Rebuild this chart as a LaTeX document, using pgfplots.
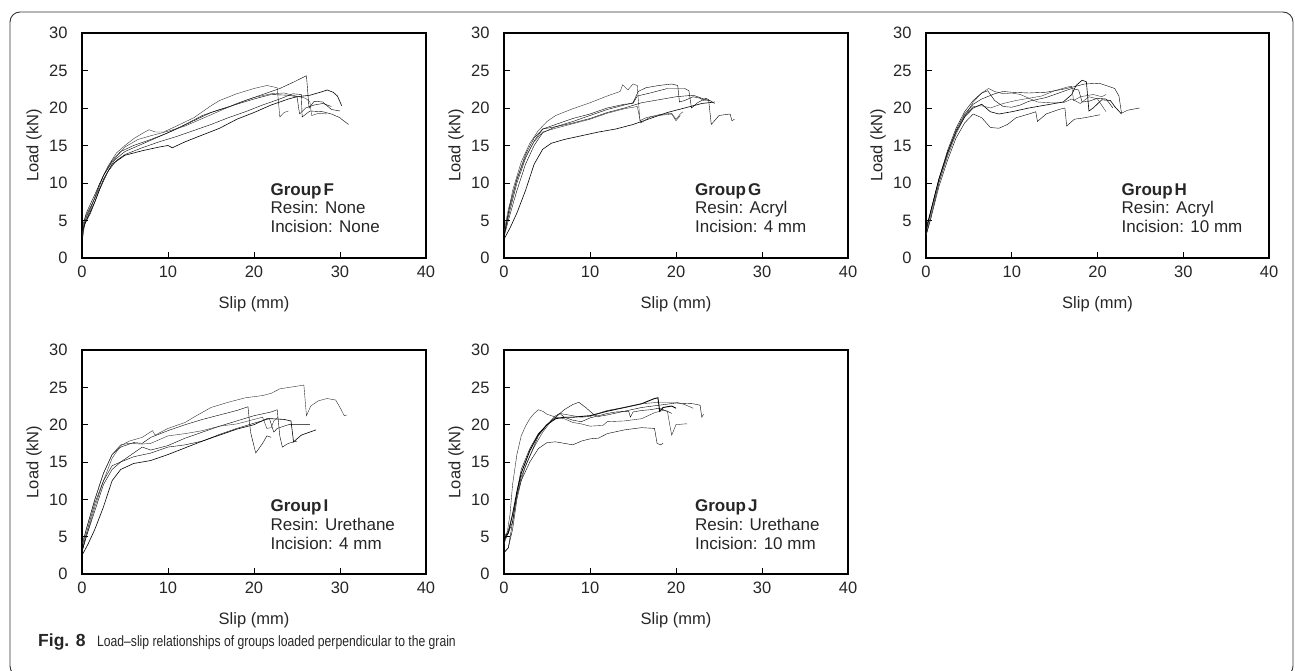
\documentclass[border=0pt]{standalone}
\usepackage{fontspec}
\setmainfont{Liberation Sans}
\usepackage{pgfplots}
\pgfplotsset{compat=1.18}
\pgfplotsset{
 panel/.style={
  anchor=south west, scale only axis, width=344pt, height=225pt,
  xmin=0,xmax=40,ymin=0,ymax=30,
  xtick={0,10,20,30,40}, ytick={0,5,10,15,20,25,30},
  tick align=inside, tick pos=left,
  major tick length=6pt,
  axis line style={line width=1.2pt, black},
  tick style={line width=0.9pt, black},
  tick label style={font=\fontsize{16.5}{19}\selectfont, text=black!85},
  /pgf/number format/assume math mode=true,
  yticklabel style={xshift=-11pt},
  xticklabel style={yshift=-4pt},
  xlabel={Slip (mm)}, ylabel={Load (kN)},
  label style={font=\fontsize{16.5}{19}\selectfont, text=black!85},
  xlabel style={at={(axis description cs:0.5,-0.172)}, anchor=north, inner sep=0pt},
  ylabel style={at={(axis description cs:-0.1395,0.5)}, anchor=center, inner sep=0pt},
  cycle list={{black!80,solid,mark=none,line width=0.6pt,line join=round}},
 },
}
\tikzset{grp/.style={anchor=north west, inner sep=0pt, align=left, text=black!85,
   font=\fontsize{17}{18.8}\selectfont}}
\begin{document}
\begin{tikzpicture}
\useasboundingbox (0,0) rectangle (1295pt,670pt);
\clip (0,0) rectangle (1295pt,670pt);
\draw[line width=0.9pt, black!80, rounded corners=10pt] (10pt,-6pt) rectangle (1293pt,658pt);

% ---------------- Group F
\begin{axis}[panel, at={(82pt,412pt)}]
\addplot coordinates {(0,2.5)(0.2,4.5)(1,6.5)(2,9.8)(3,12.2)(4,14)(5,15)(6,15.9)(7,16.6)(7.8,17.1)(8.5,16.8)(9.5,16.8)(11,17.6)(13,18.7)(15,20.3)(16,21)(18,21.9)(20,22.6)(21.5,23)(22.7,22.7)(23,18.8)(23.5,19.4)(24,19.6)};
\addplot coordinates {(0,3)(0.5,5.5)(1.5,8)(2.5,11)(3.5,12.8)(5,14.2)(7,15.2)(9,16.2)(11,17.2)(13,18.3)(15,19.4)(17,20.1)(19,21)(21,21.8)(23,22.6)(24.5,23.4)(26.1,24.3)(26.4,20)(27,20.9)(28,20.8)(29,19.8)(30,19.6)};
\addplot coordinates {(0,2)(0.3,4.5)(1,6)(2,9)(3,11.5)(4,13)(5,13.8)(7,14.7)(9,15.5)(11,16.2)(13,17)(15,17.8)(17,18.7)(19,19.5)(21,20.4)(23,21.2)(24.5,21.9)(25.5,21.8)(25.6,18.8)(26.5,19.6)(28,19.5)(29,19.2)(30,18.7)(30.3,18.4)(31,17.8)};
\addplot coordinates {(0,3.5)(0.5,5)(1.5,7.5)(2.5,10.5)(3.5,12.5)(5,13.7)(7,14.3)(9,14.8)(10,15)(10.5,14.7)(12,15.5)(14,16.4)(16,17.3)(18,18.5)(20,19.4)(22,20.4)(24,21.2)(25,21.5)(26.5,21.7)(28,22.2)(28.5,22.4)(29.2,22.1)(29.7,21.6)(30.2,20.3)};
\addplot coordinates {(0,4)(0.5,6)(1.5,8.5)(2.5,11)(3.5,13)(4.5,14.2)(6,15)(8,15.8)(10,16.7)(12,17.8)(14,19)(16,19.8)(18,20.5)(20,21.2)(22,21.8)(24,21.7)(25,21.5)(25.3,19.2)(26,20)(27,20.4)(28,20.6)(29,20.2)};
\addplot coordinates {(0,3)(0.4,5.5)(1.5,8)(3,11.5)(4,13.5)(5,14.8)(6.5,15.8)(8,16.3)(10,16.9)(12,17.6)(14,18.6)(16,19.6)(18,20.6)(20,21.4)(22,21.9)(23.5,22)(24.5,21.7)(26,21.3)(26.5,20.8)(26.7,19)(27.5,19.3)(28.5,19.2)};
\node[grp] at (axis cs:21.9,10) {\textbf{Group\hspace{0.12em}F}\\Resin: None\\Incision: None};
\end{axis}

% ---------------- Group G
\begin{axis}[panel, at={(504pt,412pt)}]
\addplot coordinates {(0,3)(0.5,6)(1,9)(2,12.8)(3,15.3)(4,17)(5,18.2)(6,19)(8,19.9)(10,20.7)(12,21.6)(13.5,22.2)(13.8,23.1)(14.4,22.4)(15,23.2)(15.5,23)(15.8,18.3)(16.5,18.7)(18,19.1)(19.5,19.3)(20,18.5)(20.5,19.2)(20.8,19.5)};
\addplot coordinates {(0,2.8)(0.5,5)(1.5,9)(2.5,12.5)(3.5,15)(4.5,16.7)(6,17.5)(8,18.2)(10,19)(12,19.8)(14,20.4)(15,20.7)(15.6,22.2)(16.5,22.7)(18,23)(19.5,23.2)(20.2,23)(20.4,20.8)(21,21)(22,21.5)(22.8,21.3)(23.2,21)(24,21)};
\addplot coordinates {(0,3)(0.5,5.5)(1.5,10)(2.5,13.3)(3.5,15.6)(4.5,17.2)(6,17.8)(8,18.6)(10,19.2)(12,20)(14,20.5)(15,20.6)(15.5,21.6)(17,22)(19,22.6)(21,22.6)(21.5,22.3)(21.8,20)(22.5,20.7)(23.5,21.3)(24.5,20.6)};
\addplot coordinates {(0,2.5)(0.7,4)(1.5,6)(2.5,9)(3.5,12.5)(4.5,14.5)(5.5,15.3)(7,15.8)(9,16.3)(11,16.8)(13,17.2)(15,17.8)(17,18.6)(19,19.4)(21,20)(23,20.6)(24.5,20.8)};
\addplot coordinates {(0,3)(0.5,6)(1.5,10.5)(2.5,13.8)(3.5,16)(4.5,17.2)(6,17.5)(8,18)(10,18.6)(12,19.4)(14,20)(16,20.7)(18,21.1)(20,21.5)(22,21.7)(23,21.3)(23.8,21)(24.1,17.8)(25,19)(26.3,19.2)(26.5,18.3)(26.8,18.5)};
\addplot coordinates {(0,3.5)(0.5,6.5)(1.5,10.5)(2.5,13.5)(3.5,15.5)(4.5,16.8)(6,17.3)(8,17.9)(10,18.5)(12,19.3)(14,19.9)(15.5,20.2)(15.9,18)(17,18.8)(18,19)(19.5,19.2)(20,18.3)(20.5,19)};
\node[grp] at (axis cs:22.2,10) {\textbf{Group\hspace{0.12em}G}\\Resin: Acryl\\Incision: 4 mm};
\end{axis}

% ---------------- Group H
\begin{axis}[panel, at={(926pt,412pt)}, width=343pt]
\addplot coordinates {(0,3)(0.5,5.5)(1.5,10)(2.5,13.5)(3.5,16.5)(4.5,18.8)(5.5,20.8)(6.5,22)(7.3,22.6)(8,22.2)(9,21.9)(10,22)(11,21.8)(12,21.3)(13,20.8)(14.5,20.7)(16,20.7)(17,21.2)(18,20.6)(19,21.5)(20,21.2)(21,19.5)};
\addplot coordinates {(0,3.5)(0.5,6)(1.5,10.5)(2.5,14)(3.5,17)(4.5,19.2)(5.5,20.5)(6.5,21.2)(8,21.9)(9,22.2)(10,22.1)(12,22)(14,22.1)(16,22.5)(17.5,22.9)(18.5,23.2)(20.2,23.3)(21,23)(22,22.6)(22.5,21.6)(22.8,19.3)(23.5,19.7)(24.9,20)};
\addplot coordinates {(0,3)(0.5,5)(1.5,9.5)(2.5,13)(3.5,16)(4.5,18)(5.5,19.2)(6.5,18.7)(7.5,17.4)(8.5,17.3)(9.5,17.8)(10.5,18.7)(12,19.2)(12.8,19.5)(13,18.2)(14,19.2)(15.5,19.8)(16.2,20)(16.4,17.6)(17.3,18.5)(18.5,18.7)(20.3,19.1)};
\addplot coordinates {(0,4)(0.5,6)(1.5,10.5)(2.5,14)(3.5,16.8)(4.5,18.8)(5.5,20)(6.5,20.5)(7.5,19.5)(8.5,19.2)(10,19.5)(12,20)(14,20.4)(16,20.8)(17,21.8)(17.5,23)(18.2,23.7)(18.7,23.5)(19,19.6)(19.5,20)(20.5,21.1)(21.5,21)(22,20.2)(22.8,19.2)};
\addplot coordinates {(0,3.5)(0.5,6)(1.5,10.5)(2.5,14.3)(3.5,17.3)(4.5,19.5)(5.5,21)(6.5,22)(7.2,22.3)(8,21)(9,20.2)(10,20.1)(11,20.4)(12,20.9)(14,21.4)(16,22.2)(17,22.6)(17.8,22.4)(18.2,20.8)(19,20.9)(20,21.3)(21,21.2)(21.8,20)};
\addplot coordinates {(0,3)(0.6,5.5)(1.5,10)(2.5,13.8)(3.5,16.8)(4.5,19)(5.5,20.2)(6.5,20.3)(7.5,20)(9,20.6)(10.5,21)(12,21.3)(13.5,21.6)(15,22.3)(16.5,22.8)(17,22.9)(17.2,21)(18,21.5)(19.5,21.8)(20.5,21.5)(21,21.8)};
\node[grp] at (axis cs:22.8,10) {\textbf{Group\hspace{0.12em}H}\\Resin: Acryl\\Incision: 10 mm};
\end{axis}

% ---------------- Group I
\begin{axis}[panel, at={(82pt,96pt)}, height=224pt]
\addplot coordinates {(0,3)(0.5,5)(1.5,9)(2.5,12.5)(3.5,15.5)(4.5,17.2)(5.5,17.8)(7,18.3)(8.2,19.2)(8.5,18.6)(10,19.5)(12,20.3)(13,21)(15,22.3)(17,23)(19,23.6)(21,23.9)(22,24.2)(23,24.8)(25.8,25.3)(26.1,21.2)(26.6,22.5)(27.5,23.2)(28.5,23.5)(29.5,23.3)(30,22.3)(30.5,21.2)(30.8,21.3)};
\addplot coordinates {(0,3.5)(0.5,6)(1.5,10)(2.5,13.5)(3.5,16)(4.5,17)(6,17.6)(7,17.5)(8,18.3)(10,19.2)(12,20)(14,20.7)(16,21.3)(18,21.9)(19.3,22.4)(19.6,19)(20.2,16.2)(21,17.5)(21.5,18.5)(22,18.3)};
\addplot coordinates {(0,3)(0.5,5)(1.5,8.5)(2.5,12)(3.5,14)(4.5,15)(6,16.2)(7,17)(8,16.6)(10,17.2)(12,18.2)(14,19)(16,19.8)(18,20.5)(20,21.2)(22,21.7)(22.7,22)(23,18.5)(23.3,17)(24,17.5)(25,17.8)};
\addplot coordinates {(0,2.5)(0.7,4)(1.5,6)(2.5,9)(3.5,12.5)(4.5,14)(6,14.8)(8,15.2)(10,16)(12,16.9)(14,17.8)(16,18.6)(18,19.4)(20,20)(21.5,20.8)(22,20.8)(23.5,20.7)(24.3,20.5)(24.6,17.7)(25.5,18.6)(27.2,19.3)};
\addplot coordinates {(0,3)(0.4,5)(1.5,9.5)(2.5,12.5)(3.5,14.5)(4.5,15)(6,15.7)(8,16.2)(10,17)(12,17.3)(14,17.8)(16,18.7)(18,19.5)(20,20.2)(21.8,20.8)(22.3,19)(22.7,19.5)(24,20)(26.5,20)};
\addplot coordinates {(0,4)(0.5,6)(1.5,10)(2.5,13.5)(3.5,16)(4.5,17.3)(5.5,17.5)(7,17.4)(8,17.5)(10,18.5)(12,18.8)(14,19.2)(16,19.8)(18,20.1)(20,20.7)(21,21)(21.5,19.5)(22,19.6)(22.3,20.5)(22.8,21)};
\node[grp] at (axis cs:21.9,10) {\textbf{Group\hspace{0.12em}I}\\Resin: Urethane\\Incision: 4 mm};
\end{axis}

% ---------------- Group J
\begin{axis}[panel, at={(504pt,96pt)}, height=224pt, cycle list={{black!85,solid,mark=none,line width=0.9pt,line join=round}}]
\addplot coordinates {(0,4)(0.3,5)(0.7,8)(1,12)(1.5,16)(2,18.5)(2.5,19.8)(3,20.8)(3.5,21.5)(4,22)(4.5,21.8)(5,21.4)(6,21)(7,20.8)(8,20.3)(9,20.1)(10,19.8)(11.5,19.9)(12,20.4)(14,20.5)(16,20.8)(17.5,21.6)(18.5,21.9)(19,21.8)(19.3,19.8)(19.5,18.6)(20,20)(21,20.1)(21.3,20.1)};
\addplot coordinates {(0,5)(0.5,5.5)(1,7)(1.5,10.5)(2,13)(3,15.8)(4,18.5)(5,20)(6,21)(7,22)(8,22.7)(8.7,23)(9.5,22.3)(10.5,21.3)(11,21.1)(12,21.3)(14,21.8)(16,22.3)(18,22.6)(20,22.9)(22,22.8)(22.8,22.6)(23,21)(23.2,21.4)};
\addplot coordinates {(0,3)(0.5,3.5)(1,6)(1.5,10)(2,12.5)(3,15)(4,16.8)(5,17.6)(6,17.7)(7,17.5)(8,17.3)(9,17.8)(10,18.1)(11,18.2)(12,18.8)(14,19.3)(16,19.6)(17.5,19.5)(17.8,17.5)(18.2,17.3)(18.5,17.5)};
\addplot coordinates {(0,4.5)(0.5,5.5)(1,8)(1.5,11)(2,13.5)(3,16.5)(4,18.7)(5,20)(6,20.8)(7,21)(8,21)(10,21.2)(12,21.8)(14,22.3)(16,22.8)(17.5,23.5)(17.9,23.6)(18.1,21.8)(18.5,22.3)(19.5,22.5)(20,22.2)};
\addplot coordinates {(0,2.8)(0.5,3.5)(1,7)(1.5,11)(2,14)(3,16.8)(4,18.8)(5,20)(6,21.2)(6.5,21.5)(7,21)(8,20.6)(9,20.4)(10,20.9)(11,21.2)(12,21.5)(13,21.7)(14.5,21.8)(14.7,21)(15,21.7)(16,21.9)(17,22)(18,22.2)(19,21.8)(19.5,21.5)};
\addplot coordinates {(0,5)(0.5,5.8)(1,8)(1.5,10.5)(2.5,14.5)(3.5,17)(4.5,19)(5.5,20.5)(6.5,21.5)(7.5,21.3)(9,21)(10,21.1)(12,21.9)(14,22.3)(16,22.8)(18,23)(20,23)(21,22.7)(22,22.2)};
\node[grp] at (axis cs:22.2,10) {\textbf{Group\hspace{0.12em}J}\\Resin: Urethane\\Incision: 10 mm};
\end{axis}

\node[anchor=base west, inner sep=0pt, text=black!85, font=\fontsize{17.5}{20}\selectfont\bfseries] at (38pt,24pt) {Fig. 8};
\begin{scope}[xscale=0.81, transform shape]
\node[anchor=base west, inner sep=0pt, text=black!85, font=\fontsize{15}{18}\selectfont] at (119.75pt,24pt)
  {Load–slip relationships of groups loaded perpendicular to the grain};
\end{scope}
\end{tikzpicture}
\end{document}
